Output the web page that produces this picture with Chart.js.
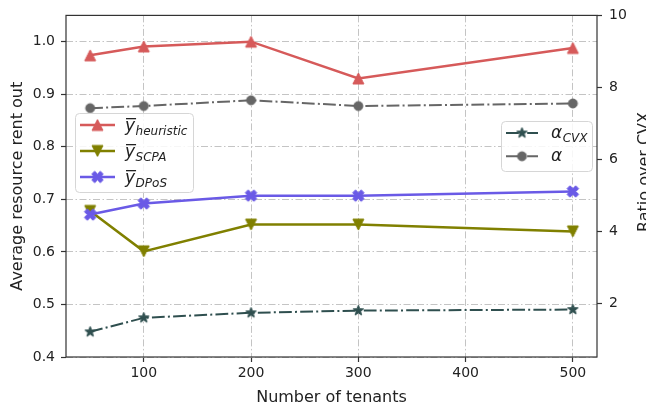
<!DOCTYPE html>
<html>
<head>
<meta charset="utf-8">
<script src="https://cdn.jsdelivr.net/npm/chart.js@4.4.1/dist/chart.umd.min.js"></script>
<style>
  html, body { margin: 0; padding: 0; background: #fff; }
  #chart { display: block; }
</style>
</head>
<body>
<canvas id="chart" width="646" height="411"></canvas>
<script>
// number of tenants on x
const tenants = [50, 100, 200, 300, 500];

// left axis: average resource rent out
const heuristic = [0.974, 0.991, 1.000, 0.930, 0.988];
const scpa = [0.678, 0.601, 0.652, 0.652, 0.639];
const dpos = [0.671, 0.692, 0.707, 0.707, 0.715];

// right axis: ratio over CVX
const alphaCvx = [1.20, 1.59, 1.73, 1.79, 1.82];
const alpha = [7.42, 7.48, 7.64, 7.48, 7.55];

const xTicks = [100, 200, 300, 400, 500];
const leftTicks = [0.4, 0.5, 0.6, 0.7, 0.8, 0.9, 1.0];
const rightTicks = [2, 4, 6, 8, 10];

const RED = '#d65a5a';
const OLIVE = '#808000';
const PURPLE = '#6a5ae6';
const TEAL = '#2f4f4f';
const GRAY = '#666666';
const GRID = '#c4c4c4';
const FRAME = '#333333';
const TEXT = '#222222';
const DASHDOT = [12.8, 3.2, 2, 3.2];

Chart.defaults.font.family = "'DejaVu Sans', sans-serif";

// filled marker shapes drawn once on small canvases
function marker(kind, color, size) {
  const c = document.createElement('canvas');
  c.width = c.height = size + 4;
  const g = c.getContext('2d');
  const m = c.width / 2, r = size / 2;
  g.fillStyle = color;
  g.strokeStyle = color;
  g.lineWidth = 1;
  g.beginPath();
  if (kind === 'up') {
    g.moveTo(m, m - r); g.lineTo(m + r, m + r); g.lineTo(m - r, m + r);
  } else if (kind === 'down') {
    g.moveTo(m, m + r); g.lineTo(m + r, m - r); g.lineTo(m - r, m - r);
  } else if (kind === 'circle') {
    g.arc(m, m, r, 0, Math.PI * 2);
  } else if (kind === 'star') {
    for (let i = 0; i < 10; i++) {
      const a = -Math.PI / 2 + i * Math.PI / 5;
      const rr = i % 2 ? r * 0.42 : r;
      g.lineTo(m + rr * Math.cos(a), m + rr * Math.sin(a));
    }
  } else if (kind === 'x') {
    const pts = [[-1, -3], [1, -3], [1, -1], [3, -1], [3, 1], [1, 1], [1, 3], [-1, 3], [-1, 1], [-3, 1], [-3, -1], [-1, -1]];
    const k = size / 6 * 1.1, cs = Math.SQRT1_2;
    pts.forEach(([px, py]) => {
      g.lineTo(m + (px * cs - py * cs) * k / 1, m + (px * cs + py * cs) * k / 1);
    });
  }
  g.closePath();
  g.fill();
  g.stroke();
  return c;
}

function series(values) {
  return tenants.map((x, i) => ({ x: x, y: values[i] }));
}

const datasets = [
  { label: 'heuristic', data: series(heuristic), yAxisID: 'y', borderColor: RED, backgroundColor: RED,
    borderWidth: 2.5, pointStyle: marker('up', RED, 11), order: 3 },
  { label: 'SCPA', data: series(scpa), yAxisID: 'y', borderColor: OLIVE, backgroundColor: OLIVE,
    borderWidth: 2.5, pointStyle: marker('down', OLIVE, 11), order: 2 },
  { label: 'DPoS', data: series(dpos), yAxisID: 'y', borderColor: PURPLE, backgroundColor: PURPLE,
    borderWidth: 2.5, pointStyle: marker('x', PURPLE, 11), order: 1 },
  { label: 'CVX', data: series(alphaCvx), yAxisID: 'y1', borderColor: TEAL, backgroundColor: TEAL,
    borderWidth: 2, borderDash: DASHDOT, pointStyle: marker('star', TEAL, 11), order: 4 },
  { label: 'alpha', data: series(alpha), yAxisID: 'y1', borderColor: GRAY, backgroundColor: GRAY,
    borderWidth: 2, borderDash: DASHDOT, pointStyle: marker('circle', GRAY, 9), order: 5 }
];
datasets.forEach(d => { d.pointRadius = 6; d.fill = false; d.tension = 0; });

// legend entries: main glyph, subscript, whether the glyph is overlined
const leftLegend = [
  { ds: 0, main: 'y', sub: 'heuristic', bar: true },
  { ds: 1, main: 'y', sub: 'SCPA', bar: true },
  { ds: 2, main: 'y', sub: 'DPoS', bar: true }
];
const rightLegend = [
  { ds: 3, main: 'α', sub: 'CVX', bar: false },
  { ds: 4, main: 'α', sub: '', bar: false }
];

function drawLegendBox(ctx, x, y, w, h, entries, rowTop, rowGap, handleW, textOff) {
  ctx.save();
  ctx.beginPath();
  ctx.roundRect(x + 0.5, y + 0.5, w, h, 4);
  ctx.fillStyle = 'rgba(255,255,255,0.85)';
  ctx.fill();
  ctx.strokeStyle = '#d6d6d6';
  ctx.lineWidth = 1;
  ctx.stroke();
  entries.forEach((e, i) => {
    const ds = datasets[e.ds];
    const cy = y + rowTop + i * rowGap;
    const hx = x + 5;
    ctx.save();
    ctx.strokeStyle = ds.borderColor;
    ctx.lineWidth = ds.borderWidth;
    ctx.setLineDash(ds.borderDash || []);
    ctx.beginPath();
    ctx.moveTo(hx, cy);
    ctx.lineTo(hx + handleW, cy);
    ctx.stroke();
    ctx.restore();
    const img = ds.pointStyle;
    ctx.drawImage(img, hx + handleW / 2 - img.width / 2, cy - img.height / 2);

    const tx = x + textOff;
    ctx.fillStyle = TEXT;
    ctx.textAlign = 'left';
    ctx.textBaseline = 'alphabetic';
    ctx.font = 'italic 17px "DejaVu Sans"';
    const base = e.bar ? cy + 6 : cy + 5;
    ctx.fillText(e.main, tx, base);
    const mw = ctx.measureText(e.main).width;
    if (e.bar) {
      ctx.fillRect(tx + 1, cy - 7, mw, 1.3);
    }
    if (e.sub) {
      ctx.font = 'italic 12px "DejaVu Sans"';
      ctx.fillText(e.sub, tx + mw + 0.5, base + 4);
    }
  });
  ctx.restore();
}

const decorations = {
  id: 'decorations',
  beforeDraw(chart) {
    const ctx = chart.ctx;
    ctx.save();
    ctx.fillStyle = '#ffffff';
    ctx.fillRect(0, 0, chart.width, chart.height);
    ctx.restore();
  },
  afterDatasetsDraw(chart) {
    const { ctx, chartArea: a } = chart;
    ctx.save();
    ctx.strokeStyle = FRAME;
    ctx.lineWidth = 1.2;
    ctx.strokeRect(a.left, a.top, a.right - a.left, a.bottom - a.top);
    ctx.restore();
  },
  afterDraw(chart) {
    const { ctx, chartArea: a } = chart;
    drawLegendBox(ctx, a.left + 9, 113, 118, 79, leftLegend, 12, 26, 35, 50);
    drawLegendBox(ctx, a.right - 96, 121, 91, 50, rightLegend, 12, 23.3, 32, 50);

    // right axis title sits at the canvas edge
    ctx.save();
    ctx.translate(645, 172);
    ctx.rotate(-Math.PI / 2);
    ctx.fillStyle = TEXT;
    ctx.font = '16px "DejaVu Sans"';
    ctx.textAlign = 'center';
    ctx.textBaseline = 'middle';
    ctx.fillText('Ratio over CVX', 0, 0);
    ctx.restore();
  }
};

const gridDash = [7, 2.5, 1.5, 2.5];

new Chart(document.getElementById('chart'), {
  type: 'line',
  data: { datasets: datasets },
  options: {
    responsive: false,
    devicePixelRatio: 1,
    animation: false,
    layout: { padding: { top: 12, left: 0, right: 0, bottom: 0 } },
    plugins: { legend: { display: false }, tooltip: { enabled: false } },
    scales: {
      x: {
        type: 'linear',
        min: 27.5,
        max: 522.5,
        afterBuildTicks: s => { s.ticks = xTicks.map(v => ({ value: v })); },
        afterFit: s => { s.height = 54; },
        grid: { color: GRID, lineWidth: 1, tickLength: 5, tickColor: FRAME, tickWidth: 1.2, tickBorderDash: [] },
        border: { display: false, dash: gridDash },
        ticks: { color: TEXT, font: { size: 14 }, padding: 3, maxRotation: 0, callback: v => String(v) },
        title: { display: true, text: 'Number of tenants', color: TEXT, font: { size: 16 }, padding: { top: 0, bottom: 4 } }
      },
      y: {
        position: 'left',
        min: 0.4,
        max: 1.05,
        afterBuildTicks: s => { s.ticks = leftTicks.map(v => ({ value: v })); },
        afterFit: s => { s.width = 66; },
        grid: { color: GRID, lineWidth: 1, tickLength: 5, tickColor: FRAME, tickWidth: 1.2, tickBorderDash: [] },
        border: { display: false, dash: gridDash },
        ticks: { color: TEXT, font: { size: 14 }, padding: 6, callback: v => v.toFixed(1) },
        title: { display: true, text: 'Average resource rent out', color: TEXT, font: { size: 16 }, padding: { top: 8, bottom: 0 } }
      },
      y1: {
        position: 'right',
        min: 0.5,
        max: 10,
        afterBuildTicks: s => { s.ticks = rightTicks.map(v => ({ value: v })); },
        afterFit: s => { s.width = 49; },
        grid: { drawOnChartArea: false, tickLength: 5, tickColor: FRAME, tickWidth: 1.2, tickBorderDash: [] },
        border: { display: false },
        ticks: { color: TEXT, font: { size: 14 }, padding: 7, callback: v => String(v) }
      }
    }
  },
  plugins: [decorations]
});
</script>
</body>
</html>
